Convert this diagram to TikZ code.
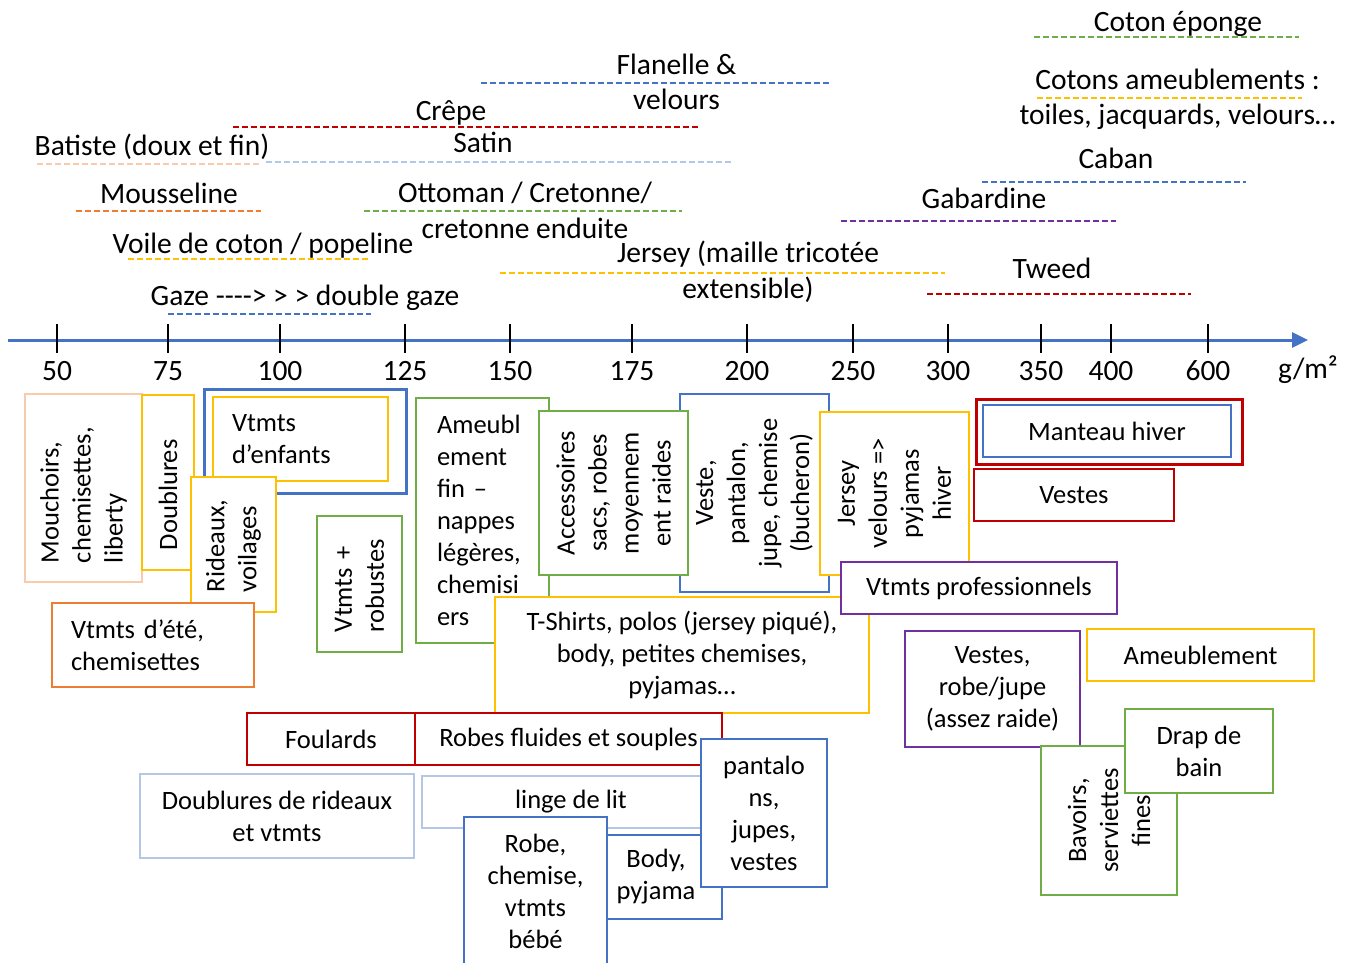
\documentclass[tikz,border=0pt]{standalone}
\usepackage{fontspec}
\setmainfont{Carlito}
\usetikzlibrary{arrows.meta}
\definecolor{bleu}{HTML}{4472C4}
\definecolor{rouge}{HTML}{C00000}
\definecolor{vert}{HTML}{70AD47}
\definecolor{jaune}{HTML}{FFC000}
\definecolor{orangef}{HTML}{ED7D31}
\definecolor{peche}{HTML}{F8CBAD}
\definecolor{bleuclair}{HTML}{B4C7E7}
\definecolor{violet}{HTML}{7030A0}

\begin{document}
\begin{tikzpicture}[x=1pt,y=-1pt,
    font=\fontsize{26.5}{32}\selectfont,
    boite/.style={draw=#1,fill=white,line width=2pt,inner sep=0pt,align=center},
    vboite/.style={boite=#1,rotate=90},
    etiq/.style={anchor=base,inner sep=0pt,align=center,font=\fontsize{29.5}{35.5}\selectfont},
    tiret/.style={line width=2.5pt,dash pattern=on 6pt off 3pt}]
    \useasboundingbox (0,0) rectangle (1350,963);

    % Etiquettes et tirets (gammes de grammage)
    \node[etiq] (eponge) at (1178,32) {Coton éponge};
    \draw[tiret,vert] (1034,37) -- (1299,37);

    \node[etiq] (flanelle) at (676.5,110) {Flanelle \&\\velours};
    \draw[tiret,bleu] (481,83) -- (829,83);

    \node[etiq] (cotons) at (1177.5,125) {Cotons ameublements :\\toiles, jacquards, velours…};
    \draw[tiret,jaune] (1037,98) -- (1302,98);

    \node[etiq] (crepe) at (451,121) {Crêpe};
    \draw[tiret,rouge] (233,127) -- (700,127);

    \node[etiq] (batiste) at (152,156) {Batiste (doux et fin)};
    \draw[tiret,peche] (37,164) -- (261,164);

    \node[etiq] (satin) at (483,153) {Satin};
    \draw[tiret,bleuclair] (266,162) -- (732,162);

    \node[etiq] (caban) at (1116,168) {Caban};
    \draw[tiret,bleu] (982,182) -- (1246,182);

    \node[etiq] (mousseline) at (169,204) {Mousseline};
    \draw[tiret,orangef] (76,211) -- (261,211);

    \node[etiq] (ottoman) at (525,238) {Ottoman / Cretonne/\\cretonne enduite};
    \draw[tiret,vert] (364,211) -- (682,211);

    \node[etiq] (gabardine) at (984,208) {Gabardine};
    \draw[tiret,violet] (841,221) -- (1116,221);

    \node[etiq] (voile) at (263,253) {Voile de coton / popeline};
    \draw[tiret,jaune] (128,259) -- (370,259);

    \node[etiq] (jersey) at (748,298) {Jersey (maille tricotée\\extensible)};
    \draw[tiret,jaune] (500,273) -- (945,273);

    \node[etiq] (tweed) at (1052,278) {Tweed};
    \draw[tiret,rouge] (927,294) -- (1191,294);

    \node[etiq] (gaze) at (305,305) {Gaze -{}-{}-{}-> > > double gaze};
    \draw[tiret,bleu] (168,314) -- (371,314);

    % Axe des grammages
    \draw[bleu,line width=3pt,-{Triangle[length=16pt,width=15pt]}] (8,340) -- (1308,340);
    \foreach \Xc/\Val in {57/50,168/75,280/100,405/125,510/150,632/175,
                          747/200,853/250,948/300,1041/350,1111/400,1208/600}
    {
      \draw[black,line width=1.3pt] (\Xc,324) -- (\Xc,353);
      \node[etiq] at (\Xc,380) {\Val};
    }
    \node[etiq] (unite) at (1308,378) {g/m²};

    % Usages (cadres)
    \node[vboite=peche,minimum width=188pt,minimum height=117pt,
          inner xsep=19pt,text width=150pt,align=left]
      (mouchoirs) at (83.5,488) {Mouchoirs,\\chemisettes,\\liberty};
    \node[vboite=jaune,minimum width=175pt,minimum height=52pt,
          inner xsep=20pt,text width=135pt,align=left]
      (doublures) at (168,482.5) {Doublures};
    \node[boite=bleu,line width=3pt,minimum width=202pt,minimum height=104pt]
      (enfantsbleu) at (305,441) {};
    \node[boite=jaune,minimum width=175pt,minimum height=84pt,
          inner xsep=19pt,text width=137pt,align=left]
      (enfants) at (300.5,439) {Vtmts\\d’enfants};
    \node[vboite=jaune,minimum width=135pt,minimum height=85pt,
          inner xsep=20pt,text width=95pt,align=left]
      (rideaux) at (233.5,544.5) {Rideaux,\\voilages};
    \node[boite=orangef,minimum width=202pt,minimum height=84pt,
          inner xsep=19pt,text width=164pt,align=left]
      (ete) at (153,645) {Vtmts d’été,\\chemisettes};
    \node[vboite=vert,minimum width=136pt,minimum height=85pt,
          inner xsep=20pt,text width=96pt,align=left]
      (robustes) at (359.5,584) {Vtmts +\\robustes};
    \node[boite=vert,minimum width=133pt,minimum height=245pt,
          inner xsep=21pt,text width=91pt,align=left]
      (ameubfin) at (482.5,520.5) {Ameubl\\ement\\fin –\\nappes\\légères,\\chemisi\\ers};
    \node[vboite=bleu,minimum width=198pt,minimum height=149pt]
      (veste) at (754.5,493) {Veste,\\pantalon,\\jupe, chemise\\(bucheron)};
    \node[vboite=vert,minimum width=164pt,minimum height=149pt]
      (accessoires) at (613.5,493) {Accessoires\\sacs, robes\\moyennem\\ent raides};
    \node[vboite=jaune,minimum width=163pt,minimum height=149pt]
      (jerseyvel) at (894.5,493.5) {Jersey\\velours =>\\pyjamas\\hiver};
    \node[boite=jaune,minimum width=374pt,minimum height=116pt]
      (tshirts) at (682,655) {T-Shirts, polos (jersey piqué),\\body, petites chemises,\\pyjamas…};
    \node[boite=violet,minimum width=276pt,minimum height=52pt]
      (pro) at (979,588) {Vtmts professionnels};
    \node[boite=rouge,line width=3pt,minimum width=266pt,minimum height=65pt]
      (manteaurouge) at (1109,431.5) {};
    \node[boite=bleu,minimum width=248pt,minimum height=52pt]
      (manteau) at (1107,431) {Manteau hiver};
    \node[boite=rouge,minimum width=200pt,minimum height=52pt]
      (vestes) at (1074,495) {Vestes};
    \node[boite=rouge,minimum width=168pt,minimum height=52pt]
      (foulards) at (331,739) {Foulards};
    \node[boite=rouge,minimum width=307pt,minimum height=52pt]
      (robes) at (568.5,739) {Robes fluides et souples};
    \node[boite=bleuclair,minimum width=274pt,minimum height=84pt]
      (doubrideaux) at (277,816) {Doublures de rideaux\\et vtmts};
    \node[boite=bleuclair,minimum width=298pt,minimum height=52pt]
      (linge) at (571,802) {linge de lit};
    \node[boite=bleu,minimum width=132pt,minimum height=84pt]
      (body) at (656,877) {Body,\\pyjama};
    \node[boite=bleu,minimum width=143pt,minimum height=148pt]
      (bebe) at (535.5,891) {Robe,\\chemise,\\vtmts\\bébé};
    \node[boite=bleu,minimum width=126pt,minimum height=148pt]
      (pantalons) at (764,813) {pantalo\\ns,\\jupes,\\vestes};
    \node[boite=violet,minimum width=175pt,minimum height=116pt]
      (vestesjupe) at (992.5,689) {Vestes,\\robe/jupe\\(assez raide)};
    \node[boite=jaune,minimum width=227pt,minimum height=52pt]
      (ameub) at (1200.5,655) {Ameublement};
    \node[vboite=vert,minimum width=149pt,minimum height=136pt]
      (bavoirs) at (1109,820.5) {Bavoirs,\\serviettes\\fines};
    \node[boite=vert,minimum width=148pt,minimum height=84pt]
      (drap) at (1199,751) {Drap de\\bain};

\end{tikzpicture}
\end{document}
